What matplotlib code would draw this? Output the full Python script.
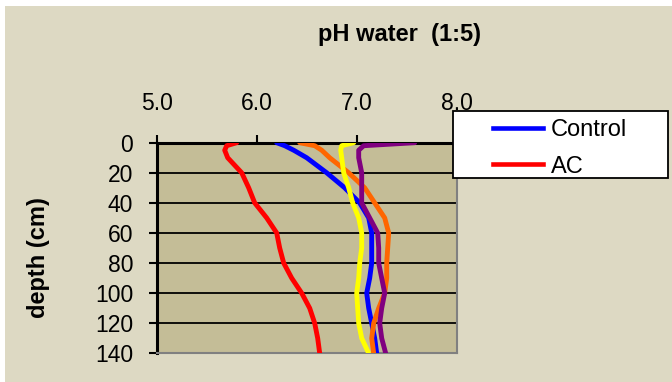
import matplotlib.pyplot as plt
from matplotlib.patches import Rectangle
from matplotlib.lines import Line2D

# depth (cm) where each profile was read
depth = [0, 2, 5, 10, 20, 30, 40, 50, 60, 70, 80, 90, 100, 110, 120, 130, 140]

# pH readings per profile
ph_control = [6.20, 6.28, 6.37, 6.50, 6.70, 6.88, 7.03, 7.12, 7.15, 7.15, 7.15, 7.13, 7.10, 7.12, 7.15, 7.18, 7.20]
ph_ac = [5.80, 5.70, 5.68, 5.71, 5.85, 5.92, 5.98, 6.10, 6.20, 6.23, 6.27, 6.35, 6.45, 6.53, 6.58, 6.61, 6.63]
ph_orange = [6.43, 6.58, 6.65, 6.73, 6.92, 7.08, 7.18, 7.28, 7.32, 7.31, 7.30, 7.30, 7.28, 7.22, 7.17, 7.15, 7.17]
ph_yellow = [6.97, 6.85, 6.84, 6.85, 6.87, 6.92, 6.96, 7.02, 7.05, 7.05, 7.03, 7.02, 7.00, 7.01, 7.02, 7.05, 7.12]
ph_purple = [7.58, 7.07, 7.02, 7.02, 7.05, 7.05, 7.05, 7.13, 7.21, 7.22, 7.22, 7.25, 7.28, 7.25, 7.23, 7.25, 7.29]

series = [
    (ph_control, "#0000FF", "Control"),
    (ph_ac, "#FF0000", "AC"),
    (ph_orange, "#FF6600", None),
    (ph_yellow, "#FFFF00", None),
    (ph_purple, "#800080", None),
]

x_ticks = [5.0, 6.0, 7.0, 8.0]
y_ticks = [0, 20, 40, 60, 80, 100, 120, 140]

plt.rcParams['font.family'] = ['Liberation Sans', 'DejaVu Sans']

W, H = 672, 382
fig = plt.figure(figsize=(W / 100, H / 100), dpi=100)
fig.patch.set_facecolor("white")

# chart area background
fig.patches.append(Rectangle((5 / W, 0), (W - 5) / W, (H - 6) / H,
                             transform=fig.transFigure, facecolor="#DDD9C3",
                             edgecolor="none", zorder=-1))

ax = fig.add_axes([156.7 / W, 1 - 353.3 / H, 300 / W, 210.6 / H])
ax.set_facecolor("#C4BD97")

for vals, col, lab in series:
    ax.plot(vals, depth, color=col, linewidth=3.5, solid_joinstyle='round',
            solid_capstyle='round', zorder=3)

ax.set_xlim(5, 8)
ax.set_ylim(140, 0)
ax.set_xticks(x_ticks)
ax.set_xticklabels([f"{v:.1f}" for v in x_ticks])
ax.set_yticks(y_ticks)
ax.xaxis.tick_top()
ax.tick_params(axis='x', direction='out', length=6, width=1.5, pad=14, labelsize=16.5)
ax.tick_params(axis='y', direction='out', length=6, width=1.5, pad=11, labelsize=16.5)

for y in y_ticks[1:-1]:
    ax.axhline(y, color="black", linewidth=1.3, zorder=2)

ax.spines['top'].set_linewidth(2.2)
ax.spines['left'].set_linewidth(2.2)
ax.spines['right'].set_color("#808080")
ax.spines['right'].set_linewidth(1.5)
ax.spines['bottom'].set_color("#808080")
ax.spines['bottom'].set_linewidth(1.5)

fig.text(400 / W, 1 - 35 / H, "pH water  (1:5)", ha="center", va="center",
         fontsize=17, fontweight="bold")
fig.text(38 / W, 1 - 258 / H, "depth (cm)", ha="center", va="center",
         rotation=90, fontsize=17, fontweight="bold")

# legend box
fig.patches.append(Rectangle((453 / W, 1 - 178 / H), 215 / W, 67 / H,
                             transform=fig.transFigure, facecolor="white",
                             edgecolor="black", linewidth=1.3, zorder=5))
handles = [Line2D([], [], color=c, linewidth=3.3) for _, c, l in series if l]
labels = [l for _, _, l in series if l]
leg = fig.legend(handles, labels, loc="upper left",
                 bbox_to_anchor=(493 / W, 1 - 119 / H), frameon=False,
                 fontsize=17, handlelength=2.1, handletextpad=0.35,
                 labelspacing=0.62, borderpad=0, borderaxespad=0)
leg.set_zorder(6)

fig.savefig("out.png", dpi=100, facecolor=fig.get_facecolor())
